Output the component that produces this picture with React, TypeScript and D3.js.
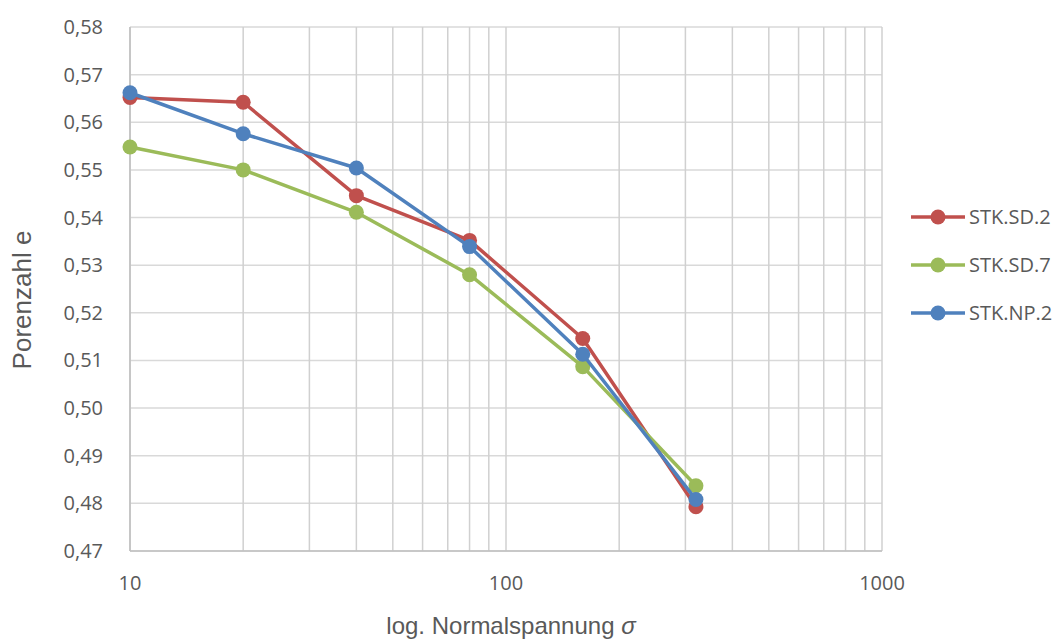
import React from "react";
import * as d3 from "d3";

const stress = [10, 20, 40, 80, 160, 320];
const sd2 = [0.5652, 0.5642, 0.5446, 0.5352, 0.5146, 0.4793];
const sd7 = [0.5548, 0.55, 0.5411, 0.528, 0.5087, 0.4837];
const np2 = [0.5662, 0.5576, 0.5504, 0.5339, 0.5113, 0.4808];
const seriesNames = ["STK.SD.2", "STK.SD.7", "STK.NP.2"];
const seriesColors = ["#C0504D", "#9BBB59", "#4F81BD"];
const yTicks = [0.47, 0.48, 0.49, 0.5, 0.51, 0.52, 0.53, 0.54, 0.55, 0.56, 0.57, 0.58];
const xTickLabels = [10, 100, 1000];

const W = 1061, H = 642;
const L = 130, R = 882, T = 27, B = 551;
const FONT = "'Open Sans', 'Liberation Sans', sans-serif";
const TFONT = "'Liberation Sans', Arial, sans-serif";
const TXT = "#595959";

export default function App() {
  const x = d3.scaleLog().domain([10, 1000]).range([L, R]);
  const y = d3.scaleLinear().domain([0.47, 0.58]).range([B, T]);
  const all = [sd2, sd7, np2];
  const line = d3.line<number>().x((_, i) => x(stress[i])).y((v) => y(v));
  const minor: number[] = [];
  for (let d = 10; d < 1000; d *= 10) for (let k = 1; k <= 10; k++) minor.push(d * k);
  const fmt = (v: number) => v.toFixed(2).replace(".", ",");
  return (
    <svg width={W} height={H} style={{ position: "absolute", left: 0, top: 0 }}>
      <rect width={W} height={H} fill="#fff" />
      {yTicks.map((t) => (
        <line key={"h" + t} x1={L} x2={R} y1={y(t)} y2={y(t)} stroke="#D9D9D9" strokeWidth={1.5} />
      ))}
      {Array.from(new Set(minor)).map((v) => (
        <line key={"v" + v} x1={x(v)} x2={x(v)} y1={T} y2={B} stroke="#D0D0D0" strokeWidth={1.5} />
      ))}
      <line x1={L} x2={R} y1={B} y2={B} stroke="#BFBFBF" strokeWidth={1.5} />
      <line x1={L} x2={L} y1={T} y2={B} stroke="#BFBFBF" strokeWidth={1.5} />
      {yTicks.map((t) => (
        <text key={"yl" + t} x={103} y={y(t) + 7} textAnchor="end" fontFamily={FONT} fontSize={20} fill={TXT}>
          {fmt(t)}
        </text>
      ))}
      {xTickLabels.map((t) => (
        <text key={"xl" + t} x={x(t)} y={590} textAnchor="middle" fontFamily={FONT} fontSize={20} fill={TXT}>
          {t}
        </text>
      ))}
      <text x={511} y={634} textAnchor="middle" fontFamily={TFONT} fontSize={24} fill={TXT}>
        log. Normalspannung <tspan fontStyle="italic">σ</tspan>
      </text>
      <text transform={`translate(31,300) rotate(-90)`} textAnchor="middle" fontFamily={TFONT} fontSize={26} fill={TXT}>
        Porenzahl e
      </text>
      {all.map((s, si) => (
        <g key={"s" + si}>
          <path d={line(s) || ""} fill="none" stroke={seriesColors[si]} strokeWidth={3.5} strokeLinejoin="round" />
          {s.map((v, i) => (
            <circle key={i} cx={x(stress[i])} cy={y(v)} r={7.5} fill={seriesColors[si]} />
          ))}
        </g>
      ))}
      {seriesNames.map((n, i) => {
        const ly = 217 + i * 48;
        return (
          <g key={"lg" + n}>
            <line x1={911} x2={965} y1={ly} y2={ly} stroke={seriesColors[i]} strokeWidth={3.5} />
            <circle cx={938} cy={ly} r={7.5} fill={seriesColors[i]} />
            <text x={969} y={ly + 7} fontFamily={FONT} fontSize={20} fill={TXT}>
              {n}
            </text>
          </g>
        );
      })}
    </svg>
  );
}
